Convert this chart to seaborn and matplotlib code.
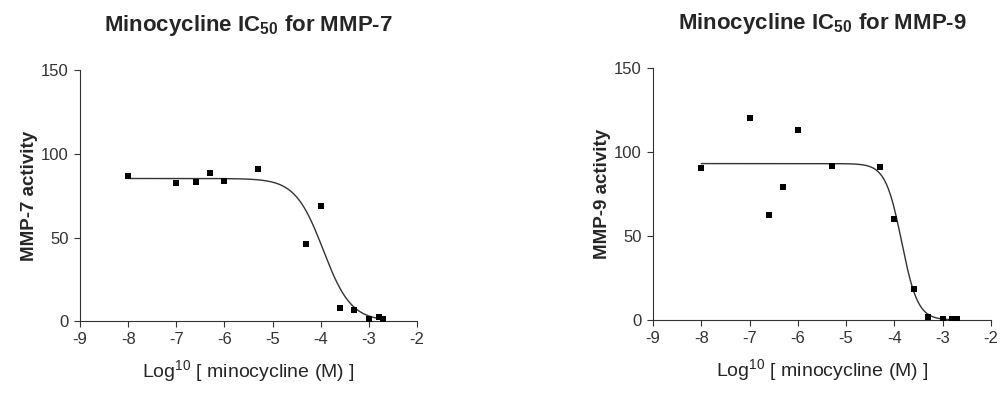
import numpy as np
import pandas as pd
import seaborn as sns
import matplotlib
matplotlib.use("Agg")
import matplotlib.pyplot as plt

# measured points (log10 molar concentration vs activity)
log_conc = [-8, -7, -6.6, -6.3, -6, -5.3, -4.3, -4, -3.6, -3.3, -3, -2.8, -2.7]
mmp7_activity = [86.7, 82.7, 83.5, 88.6, 84.0, 91.0, 46.4, 69.0, 8.0, 6.6, 1.4, 2.6, 1.4]
mmp9_activity = [90.6, 120.5, 62.8, 79.2, 113.5, 92.0, 91.4, 60.4, 18.4, 1.8, 0.4, 0.4, 0.4]

# fitted 4-parameter logistic values
mmp7_fit = {"top": 85.3, "bottom": 0.0, "log_ic50": -3.95, "hill": 1.5}
mmp9_fit = {"top": 93.2, "bottom": 0.0, "log_ic50": -3.85, "hill": 2.6}
fit_range = (-8, -2.7)

x_ticks = [-9, -8, -7, -6, -5, -4, -3, -2]
y_ticks = [0, 50, 100, 150]

panels = [
    ("MMP-7", mmp7_activity, mmp7_fit, [0.0798, 0.191, 0.336, 0.632]),
    ("MMP-9", mmp9_activity, mmp9_fit, [0.651, 0.194, 0.337, 0.634]),
]

sns.set_style("ticks")
plt.rcParams["font.family"] = ["Liberation Sans", "DejaVu Sans"]
plt.rcParams["axes.unicode_minus"] = False
plt.rcParams["mathtext.fontset"] = "custom"
plt.rcParams["mathtext.rm"] = "Liberation Sans"
plt.rcParams["mathtext.bf"] = "Liberation Sans:bold"

fig = plt.figure(figsize=(10.03, 3.97), dpi=100)

for name, activity, fit, pos in panels:
    ax = fig.add_axes(pos)
    pts = pd.DataFrame({"x": log_conc, "y": activity})
    xs = np.linspace(fit_range[0], fit_range[1], 300)
    curve = pd.DataFrame({
        "x": xs,
        "y": fit["bottom"] + (fit["top"] - fit["bottom"])
        / (1 + 10 ** ((xs - fit["log_ic50"]) * fit["hill"])),
    })
    sns.lineplot(data=curve, x="x", y="y", ax=ax, color="#333333", linewidth=1.0)
    sns.scatterplot(data=pts, x="x", y="y", ax=ax, marker="s", s=16,
                    color="black", edgecolor="black", linewidth=0, zorder=3)
    ax.set_xlim(-9, -2)
    ax.set_ylim(0, 150)
    ax.set_xticks(x_ticks)
    ax.set_yticks(y_ticks)
    ax.tick_params(labelsize=12, length=4, width=0.8, colors="#333333", pad=4)
    for s in ["left", "bottom"]:
        ax.spines[s].set_linewidth(0.8)
        ax.spines[s].set_color("#333333")
    sns.despine(ax=ax)
    ax.set_title(f"Minocycline IC$_{{\\mathbf{{50}}}}$ for {name}", fontsize=16,
                 fontweight="bold", pad=28)
    ax.set_ylabel(f"{name} activity", fontsize=13.5, fontweight="bold", labelpad=2)
    ax.set_xlabel("Log$^{10}$ [ minocycline (M) ]", fontsize=14, labelpad=8)

fig.savefig("out.png", dpi=100)
